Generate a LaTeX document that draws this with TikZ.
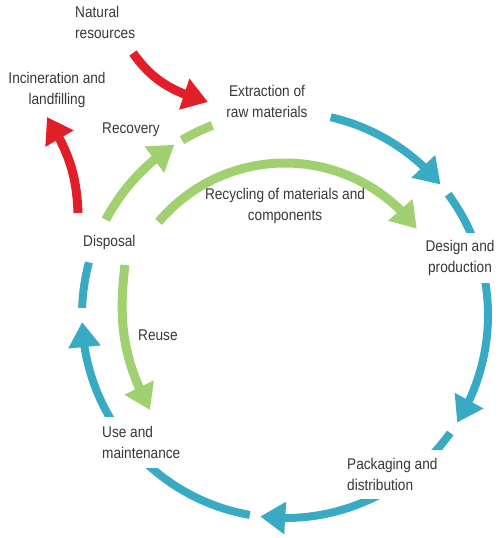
\documentclass[tikz,border=0pt]{standalone}
\usepackage{fontspec}
\setmainfont{Liberation Sans}[FakeStretch=0.88]
\usetikzlibrary{arrows.meta,bending,calc}
\definecolor{cblue}{RGB}{57,170,195}
\definecolor{cgreen}{RGB}{160,208,112}
\definecolor{cred}{RGB}{226,30,40}
\definecolor{ctext}{RGB}{55,55,55}
\begin{document}
\begin{tikzpicture}[x=1pt,y=1pt,
  lbl/.style={font=\fontsize{15.5}{21}\selectfont, text=ctext, inner sep=0pt},
  boxed/.style={fill=white},
  tip/.style={-{Triangle[length=25pt,width=31pt]}},
  bluearc/.style={draw=cblue, line width=8pt},
  greenarc/.style={draw=cgreen, line width=9pt},
  redarc/.style={draw=cred, line width=9pt}]
\useasboundingbox (0,0) rectangle (500,-538);
\coordinate (C) at (285,-315);
\coordinate (Cr) at (285,-328);
% main cycle (blue)
\draw[bluearc,tip] ($(C)+(77:203pt)$) arc[start angle=77,end angle=40,radius=203pt];
\draw[bluearc,tip] ($(C)+(36.5:203pt)$) arc[start angle=36.5,end angle=-32,radius=203pt];
\draw[bluearc,tip] ($(C)+(-35.5:203pt)$) arc[start angle=-35.5,end angle=-97,radius=203pt];
\draw[bluearc,tip] ($(C)+(-100:203pt)$) arc[start angle=-100,end angle=-178,radius=203pt];
\draw[bluearc] ($(C)+(178:203pt)$) arc[start angle=178,end angle=165,radius=203pt];
% recovery (green)
\draw[greenarc,tip] ($(C)+(152:203pt)$) arc[start angle=152,end angle=123,radius=203pt];
\draw[greenarc] ($(C)+(120.5:203pt)$) arc[start angle=120.5,end angle=111,radius=203pt];
% recycling (green)
\draw[greenarc,tip] ($(Cr)+(140:165pt)$) arc[start angle=140,end angle=37,radius=165pt];
% reuse (green)
\coordinate (reuseS) at (125,-265);
\coordinate (reuseE) at (150,-410);
\draw[greenarc,tip] (reuseS) to[out=-97,in=118] (reuseE);
% red arrows
\coordinate (natS) at (133,-53);
\coordinate (natE) at (208,-102);
\draw[redarc,tip] (natS) to[out=-55,in=164] (natE);
\coordinate (incS) at (78,-213);
\coordinate (incE) at (47,-117);
\draw[redarc,tip] (incS) to[out=92,in=-58] (incE);
% labels
\node[lbl, anchor=north west, align=left] (nat) at (75,-6) {Natural\\resources};
\node[lbl, anchor=north, align=center] (inc) at (57,-72) {Incineration and\\landfilling};
\node[lbl, anchor=north, align=center] (ext) at (267,-85) {Extraction of\\raw materials};
\node[lbl, anchor=north west] (rec) at (102,-123) {Recovery};
\node[lbl, anchor=north, align=center] (recy) at (285,-188) {Recycling of materials and\\components};
\node[lbl, anchor=north west] (disp) at (83,-235) {Disposal};
\node[lbl, anchor=north west] (reu) at (138,-330) {Reuse};
\node[lbl, boxed, anchor=north, align=center, inner xsep=6pt, inner ysep=7pt] (des) at (460,-233) {Design and\\production};
\node[lbl, boxed, anchor=north west, align=left, inner xsep=12pt, inner ysep=8pt] (pack) at (335,-450) {Packaging and\\distribution};
\node[lbl, boxed, anchor=north west, align=left, inner xsep=14pt, inner ysep=9pt] (use) at (88,-417) {Use and\\maintenance};
\end{tikzpicture}
\end{document}
